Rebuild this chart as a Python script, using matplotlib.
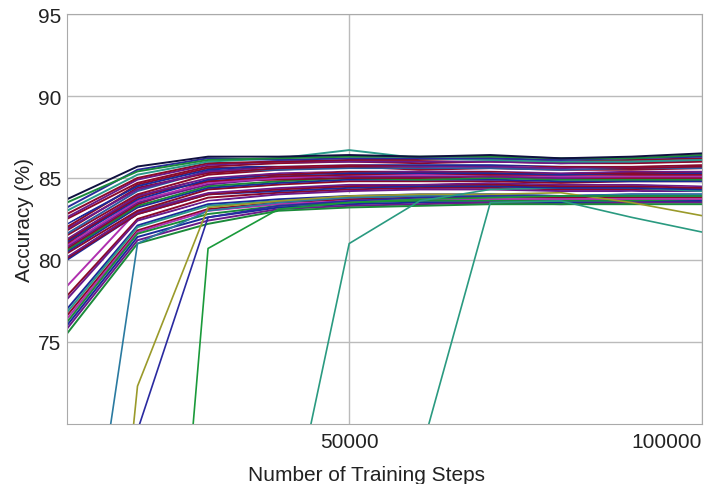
import matplotlib.pyplot as plt

plt.rcParams['font.family'] = ['Liberation Sans', 'DejaVu Sans']

# training steps at which each run was evaluated
steps = [10000, 20000, 30000, 40000, 50000, 60000, 70000, 80000, 90000, 100000]

# runs that start high (upper bundle)
upper_runs = [
    [83.7, 85.7, 86.3, 86.3, 86.4, 86.3, 86.4, 86.2, 86.3, 86.5],
    [83.5, 85.4, 86.1, 86.2, 86.3, 86.3, 86.3, 86.2, 86.2, 86.4],
    [83.2, 85.5, 86.2, 86.1, 86.2, 86.2, 86.2, 86.1, 86.2, 86.3],
    [83.0, 85.2, 86.0, 86.2, 86.7, 86.2, 86.1, 86.0, 86.0, 86.1],
    [82.8, 85.0, 85.9, 86.0, 86.1, 86.1, 86.2, 86.0, 86.1, 86.2],
    [82.6, 84.9, 85.8, 86.0, 86.0, 86.0, 86.0, 85.9, 86.0, 86.1],
    [82.5, 84.7, 85.7, 85.9, 86.0, 85.9, 86.0, 85.9, 85.9, 86.0],
    [82.3, 84.8, 85.8, 85.8, 85.9, 85.9, 85.9, 85.8, 85.8, 85.9],
    [82.2, 84.5, 85.5, 85.8, 85.9, 85.8, 85.8, 85.8, 85.9, 86.0],
    [82.0, 84.6, 85.6, 85.7, 85.8, 85.8, 85.9, 85.7, 85.7, 85.8],
    [81.9, 84.3, 85.4, 85.7, 85.8, 85.7, 85.7, 85.6, 85.7, 85.8],
    [81.8, 84.4, 85.3, 85.6, 85.7, 85.7, 85.8, 85.7, 85.6, 85.7],
    [81.6, 84.2, 85.4, 85.5, 85.6, 85.6, 85.6, 85.5, 85.6, 85.6],
    [81.5, 84.0, 85.2, 85.5, 85.7, 85.5, 85.6, 85.5, 85.5, 85.6],
    [81.4, 84.1, 85.1, 85.4, 85.5, 85.5, 85.5, 85.4, 85.5, 85.5],
    [81.3, 83.9, 85.0, 85.3, 85.5, 85.4, 85.5, 85.3, 85.4, 85.4],
    [81.2, 83.8, 85.1, 85.2, 85.4, 85.4, 85.4, 85.3, 85.3, 85.4],
    [81.1, 83.7, 84.9, 85.2, 85.3, 85.3, 85.3, 85.2, 85.3, 85.3],
    [81.0, 83.9, 84.8, 85.1, 85.2, 85.3, 85.2, 85.2, 85.2, 85.2],
    [80.9, 83.6, 84.7, 85.0, 85.2, 85.2, 85.2, 85.1, 85.1, 85.1],
    [80.8, 83.5, 84.6, 85.0, 85.1, 85.1, 85.1, 85.0, 85.1, 85.1],
    [80.7, 83.4, 84.8, 84.9, 85.0, 85.0, 85.1, 85.0, 85.0, 85.0],
    [80.6, 83.3, 84.5, 84.8, 85.0, 84.9, 85.0, 84.9, 84.9, 84.9],
    [80.5, 83.2, 84.4, 84.7, 84.9, 84.9, 84.9, 84.8, 84.8, 84.8],
    [80.4, 83.0, 84.3, 84.6, 84.8, 84.8, 84.8, 84.7, 84.8, 84.8],
    [80.3, 83.1, 84.2, 84.5, 84.7, 84.7, 84.8, 84.7, 84.7, 84.6],
    [80.2, 82.9, 84.1, 84.4, 84.6, 84.6, 84.7, 84.6, 84.6, 84.5],
    [80.1, 82.8, 84.0, 84.3, 84.5, 84.6, 84.6, 84.5, 84.5, 84.4],
    [80.0, 82.8, 84.0, 84.2, 84.4, 84.5, 84.5, 84.4, 84.4, 84.3],
    [81.2, 82.9, 84.3, 84.5, 84.6, 84.5, 84.6, 84.5, 84.4, 84.2],
]

# runs that start lower (lower bundle)
lower_runs = [
    [78.4, 83.0, 84.2, 84.4, 84.5, 84.4, 84.5, 84.4, 84.4, 84.3],
    [77.8, 82.5, 83.8, 84.1, 84.3, 84.4, 84.4, 84.3, 84.3, 84.3],
    [77.6, 82.4, 83.6, 84.0, 84.2, 84.3, 84.3, 84.2, 84.2, 84.2],
    [77.3, 82.2, 83.5, 83.8, 84.0, 84.1, 84.1, 84.0, 84.1, 84.0],
    [77.0, 82.1, 83.4, 83.7, 83.9, 84.0, 84.0, 83.9, 84.0, 84.0],
    [76.8, 82.0, 83.3, 83.6, 83.8, 83.9, 83.9, 83.8, 83.9, 83.9],
    [76.6, 81.8, 83.1, 83.5, 83.7, 83.8, 83.8, 83.8, 83.8, 83.8],
    [76.4, 81.7, 83.0, 83.4, 83.6, 83.7, 83.7, 83.7, 83.7, 83.7],
    [76.2, 81.6, 82.8, 83.3, 83.5, 83.6, 83.6, 83.6, 83.6, 83.6],
    [76.0, 81.4, 82.6, 83.2, 83.4, 83.5, 83.5, 83.5, 83.5, 83.6],
    [75.8, 81.2, 82.4, 83.1, 83.3, 83.4, 83.5, 83.4, 83.5, 83.5],
    [75.5, 81.0, 82.2, 83.0, 83.2, 83.3, 83.4, 83.4, 83.4, 83.4],
]

# runs that took a long time to get going
late_runs = [
    [52.0, 81.0, 83.0, 83.5, 83.8, 83.9, 84.0, 83.9, 84.0, 84.0],
    [30.0, 72.3, 83.2, 83.6, 83.9, 84.0, 84.0, 84.1, 83.5, 82.7],
    [40.0, 69.6, 82.6, 83.3, 83.6, 83.8, 83.9, 83.9, 83.9, 83.9],
    [20.0, 30.0, 80.7, 83.1, 83.5, 83.7, 83.8, 83.9, 83.9, 83.9],
    [20.0, 30.0, 40.0, 60.7, 81.0, 83.6, 84.3, 84.4, 84.5, 84.6],
    [20.0, 30.0, 40.0, 50.0, 55.0, 68.0, 83.5, 83.6, 82.6, 81.7],
]

upper_colors = ['#101040', '#1a8a3a', '#2a2a9a', '#2a9a8a', '#8b0a2a', '#6a1a8a',
                '#8b0a2a', 'white', '#1a2a9a', '#8b0a2a', '#6a1a8a', '#8b0a2a',
                '#2a5aa0', '#8b0a2a', 'white', '#6a1a8a', '#8b0a2a', '#1a2a9a',
                '#8b0a2a', '#b030b0', '#6a1a8a', '#8b0a2a', '#1a8a3a', '#1a2a9a',
                '#8b0a2a', 'white', '#6a1a8a', '#8b0a2a', '#1a2a9a', '#2a9a8a']
lower_colors = ['#b030b0', '#8b0a2a', '#6a1a8a', 'white', '#1a2a9a', '#2a9a8a',
                '#8b0a2a', '#b030b0', '#1a8a3a', '#1a2a9a', '#6a1a8a', '#1a8a3a']
late_colors = ['#2a7aa0', '#9a9a2a', '#2a2aa0', '#1a9a3a', '#2a9a80', '#2a9a80']

fig, ax = plt.subplots(figsize=(7.12, 4.85), dpi=100)
fig.subplots_adjust(left=0.094, right=0.986, bottom=0.124, top=0.969)

for run, c in zip(lower_runs, lower_colors):
    ax.plot(steps, run, color=c, lw=1.4)
for run, c in zip(late_runs, late_colors):
    ax.plot(steps, run, color=c, lw=1.2)
for run, c in zip(upper_runs[::-1], upper_colors[::-1]):
    ax.plot(steps, run, color=c, lw=1.4)

ax.set_xlim(10000, 100000)
ax.set_ylim(70, 95)
ax.set_xticks([50000, 100000])
ax.set_yticks([75, 80, 85, 90, 95])
ax.grid(True, color='#bbbbbb', lw=1)
ax.set_axisbelow(True)
ax.tick_params(length=0, labelsize=15, colors='#222222')
ax.tick_params(axis='x', pad=6)
ax.tick_params(axis='y', pad=4)
ax.get_xticklabels()[-1].set_horizontalalignment('right')
for s in ax.spines.values():
    s.set_color('#aaaaaa')

ax.set_xlabel('Number of Training Steps', fontsize=15, color='#222222')
ax.set_ylabel('Accuracy (%)', fontsize=15, color='#222222')
ax.xaxis.set_label_coords(0.471, -0.1)
ax.yaxis.set_label_coords(-0.052, 0.5)

plt.savefig('out.png')
